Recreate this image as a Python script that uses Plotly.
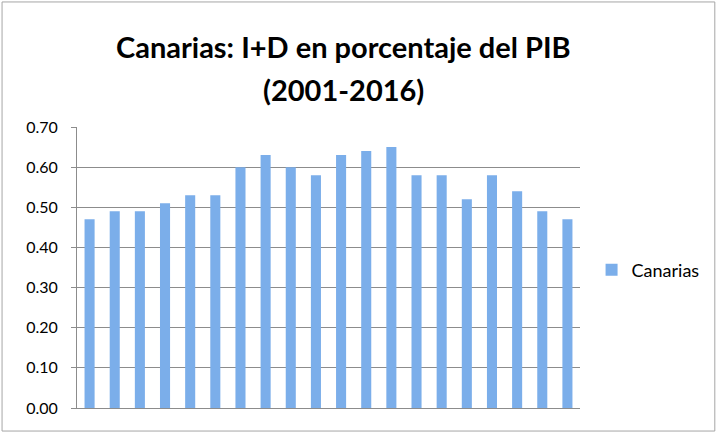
import plotly.graph_objects as go

# Data (x labels are hidden in the original)
periods = [str(i) for i in range(1, 21)]
canarias = [0.47, 0.49, 0.49, 0.51, 0.53, 0.53, 0.60, 0.63, 0.60, 0.58,
            0.63, 0.64, 0.65, 0.58, 0.58, 0.52, 0.58, 0.54, 0.49, 0.47]
y_ticks = [0.0, 0.1, 0.2, 0.3, 0.4, 0.5, 0.6, 0.7]
title_lines = ["Canarias: I+D en porcentaje del PIB", "(2001-2016)"]

font_family = "Lato, Liberation Sans, sans-serif"

fig = go.Figure()
fig.add_trace(go.Bar(
    x=periods,
    y=canarias,
    name="Canarias",
    marker=dict(color="#7BAEEA", line=dict(width=0)),
    showlegend=True,
))

# light frame around the whole chart
fig.add_shape(type="rect", xref="paper", yref="paper",
              x0=-0.149, x1=1.268, y0=-0.082, y1=1.445,
              line=dict(color="#A6A6A6", width=1), fillcolor="rgba(0,0,0,0)",
              layer="below")

# two-line title as annotations (larger line spacing than plotly's title)
for text, ypos in zip(title_lines, [1.288, 1.135]):
    fig.add_annotation(text="<b>%s</b>" % text, xref="paper", yref="paper",
                       x=0.529, y=ypos, xanchor="center", yanchor="middle",
                       showarrow=False, font=dict(size=29, family=font_family))

fig.update_layout(
    width=717, height=432,
    margin=dict(l=77, r=137, t=127, b=24),
    paper_bgcolor="white",
    plot_bgcolor="white",
    font=dict(family=font_family, color="#000000"),
    bargap=0.6,
    showlegend=True,
    legend=dict(x=1.023, y=0.491, xanchor="left", yanchor="middle",
                font=dict(size=18), bgcolor="rgba(0,0,0,0)", itemwidth=30),
    xaxis=dict(showticklabels=False, showgrid=False, ticks="",
               showline=True, linecolor="#8C8C8C", linewidth=1),
    yaxis=dict(range=[0, 0.7], tickvals=y_ticks, tickformat=".2f",
               showgrid=True, gridcolor="#8C8C8C", gridwidth=1,
               showline=True, linecolor="#8C8C8C", linewidth=1,
               ticks="outside", ticklen=5, tickcolor="#8C8C8C",
               ticklabelstandoff=10,
               tickfont=dict(size=16), zeroline=False),
)

fig.write_html("out.html", config={"displayModeBar": False},
               post_script="document.body.style.margin='0';")
